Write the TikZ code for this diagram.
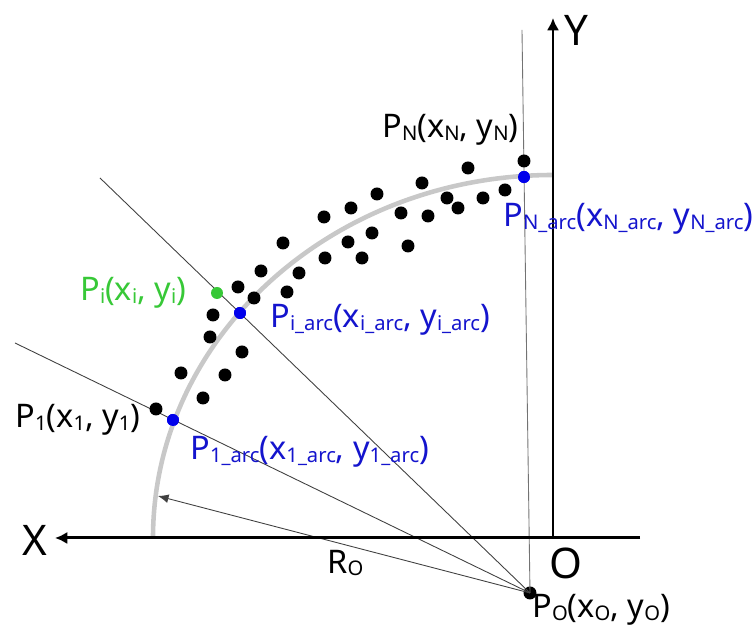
\documentclass[tikz,border=0pt]{standalone}
\usepackage{fontspec}
\setmainfont{Noto Sans}
\usetikzlibrary{arrows.meta}
\definecolor{arcgray}{RGB}{200,200,200}
\definecolor{ptblue}{RGB}{0,0,235}
\definecolor{txtblue}{RGB}{20,20,205}
\definecolor{ptgreen}{RGB}{55,200,55}
\newcommand{\lsub}[1]{\raisebox{-1.5pt}{\fontsize{11.5pt}{12pt}\selectfont #1}}
\tikzset{
	pt/.style={circle,fill=black,inner sep=0pt,minimum size=0.26cm},
	arcpt/.style={circle,fill=ptblue,inner sep=0pt,minimum size=0.24cm},
	greenpt/.style={circle,fill=ptgreen,inner sep=0pt,minimum size=0.24cm},
	ray/.style={black!75,line width=0.5pt},
	axis/.style={line width=1.7pt,-{Latex[length=7pt,width=7pt]}},
	lbl/.style={font=\fontsize{18.5pt}{22pt}\selectfont,inner sep=0pt,anchor=west},
	axislbl/.style={font=\fontsize{24pt}{28pt}\selectfont,inner sep=0pt}
}
\begin{document}
\begin{tikzpicture}[x=0.02cm,y=0.02cm]
	\useasboundingbox (0,0) rectangle (752,635);
	% axes and rays
	\coordinate (O) at (553,97);
	\coordinate (xstart) at (640,97);
	\coordinate (xend) at (55,97);
	\coordinate (ytop) at (553,617);
	\coordinate (r1) at (15,292);
	\coordinate (ri) at (100,457);
	\coordinate (rn) at (522,605);
	\coordinate (ra) at (158,139);
	\node[pt] (po) at (530,42) {};
	\node[arcpt] (p1a) at (173,215) {};
	\node[arcpt] (pia) at (240,322) {};
	\node[arcpt] (pna) at (524,458) {};
	\draw[arcgray,line width=2.6pt] (153,97) arc[start angle=180,end angle=90,x radius=400,y radius=363];
	\draw[ray] (po.center) -- (r1);
	\draw[ray] (po.center) -- (ri);
	\draw[black!55,line width=0.5pt] (po.center) -- (rn);
	\draw[ray,-{Latex[length=6pt,width=5pt]}] (po.center) -- (ra);
	\draw[axis] (xstart) -- (xend);
	\draw[axis] (O) -- (ytop);
	% measured points
	\foreach \x/\y in {468/467,422/452,377/441,351/427,324/418,447/437,458/427,483/437,505/445,
		401/422,428/419,372/402,348/393,283/392,408/389,325/377,362/377,261/364,299/362,
		238/348,287/343,254/337,213/320,210/298,242/283,181/262,225/260,203/237}
		\node[pt] at (\x,\y) {};
	\node[pt] (p1) at (156,226) {};
	\node[pt] (pn) at (524,474) {};
	\node[greenpt] (pi) at (217,342) {};
	\node[arcpt] at (p1a) {};
	\node[arcpt] at (pia) {};
	\node[arcpt] at (pna) {};
	% labels
	\node[axislbl] (xlab) at (35,95) {X};
	\node[axislbl] (ylab) at (576,605) {Y};
	\node[axislbl] (olab) at (566,72) {O};
	\node[lbl] (pnlab) at (382,505) {P\lsub{N}(x\lsub{N}, y\lsub{N})};
	\node[lbl,txtblue] (pnalab) at (503,416) {P\lsub{N\_arc}(x\lsub{N\_arc}, y\lsub{N\_arc})};
	\node[lbl,ptgreen] (pilab) at (80,342) {P\lsub{i}(x\lsub{i}, y\lsub{i})};
	\node[lbl,txtblue] (pialab) at (270,315) {P\lsub{i\_arc}(x\lsub{i\_arc}, y\lsub{i\_arc})};
	\node[lbl] (p1lab) at (15,215) {P\lsub{1}(x\lsub{1}, y\lsub{1})};
	\node[lbl,txtblue] (p1alab) at (190,183) {P\lsub{1\_arc}(x\lsub{1\_arc}, y\lsub{1\_arc})};
	\node[lbl] (rlab) at (327,72) {R\lsub{O}};
	\node[lbl] (polab) at (532,25) {P\lsub{O}(x\lsub{O}, y\lsub{O})};
\end{tikzpicture}
\end{document}
